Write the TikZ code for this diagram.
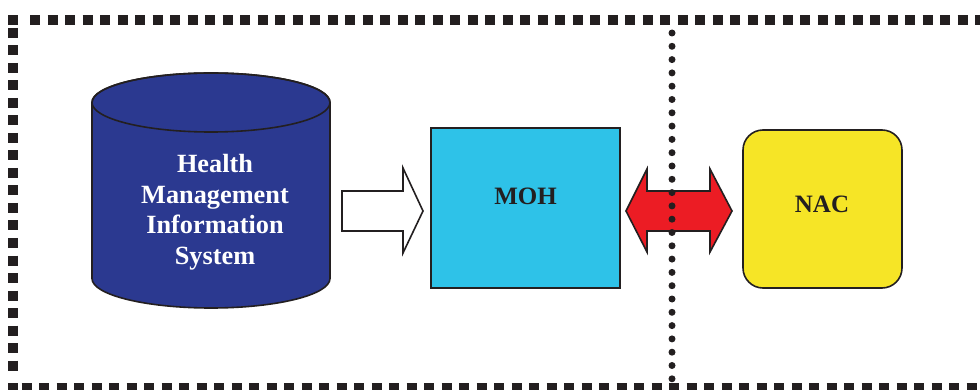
\documentclass[tikz,border=0pt]{standalone}
\usepackage{fontspec}
\setmainfont{Liberation Serif}
\definecolor{hmisblue}{HTML}{2B3990}
\definecolor{mohcyan}{HTML}{2EC2E8}
\definecolor{nacyellow}{HTML}{F6E526}
\definecolor{arrowred}{HTML}{EC1C24}
\definecolor{ink}{HTML}{231F20}
\begin{document}
\begin{tikzpicture}[x=1pt,y=-1pt,
  outline/.style={draw=ink,line width=1.6pt},
  txt/.style={font=\bfseries\fontsize{25}{30.5}\selectfont, text=ink, align=center, inner sep=0pt},
  borderline/.style={ink, line width=9.5pt, dash pattern=on 10pt off 7.5pt},
  dotline/.style={ink, line width=7pt, line cap=round, dash pattern=on 0pt off 13.3pt}]
\useasboundingbox (0,0) rectangle (980,390);
\clip (0,0) rectangle (980,390);
% dashed frame
\fill[ink] (8,15) rectangle (17.5,25);
\fill[ink] (8,382.5) rectangle (17.5,392);
\draw[borderline] (30,20) -- (1000,20);
\draw[borderline] (12.75,28) -- (12.75,376);
\draw[borderline] (21.7,387.3) -- (1000,387.3);
% cylinder
\path[outline, fill=hmisblue] (92,102.5) -- (92,278.5)
  arc[start angle=180, end angle=360, x radius=119pt, y radius=29.5pt]
  -- (330,102.5)
  arc[start angle=0, end angle=180, x radius=119pt, y radius=29.5pt] -- cycle;
\draw[outline] (211,102.5) ellipse[x radius=119pt, y radius=29.5pt];
\node[txt, text=white, font=\bfseries\fontsize{26.3}{30.5}\selectfont] (hmis) at (215,212) {Health\\Management\\Information\\System};
% MOH
\node[outline, fill=mohcyan, minimum width=189pt, minimum height=160pt, inner sep=0pt] (moh) at (525.5,208) {};
\node[txt] (mohtext) at (525.5,196) {MOH};
% NAC
\node[outline, fill=nacyellow, rounded corners=20pt, minimum width=159pt, minimum height=158pt, inner sep=0pt] (nac) at (822.5,209) {};
\node[txt] (nactext) at (822,204) {NAC};
% block arrows
\draw[outline, fill=white] (342,191) -- (403,191) -- (403,168) -- (423,211)
  -- (403,253) -- (403,231) -- (342,231) -- cycle;
\draw[outline, fill=arrowred] (626,211) -- (647,169) -- (647,191) -- (710,191)
  -- (710,169) -- (732,211) -- (710,252) -- (710,231) -- (647,231) -- (647,252) -- cycle;
% dotted divider
\draw[dotline] (672,33) -- (672,382);
\end{tikzpicture}
\end{document}
